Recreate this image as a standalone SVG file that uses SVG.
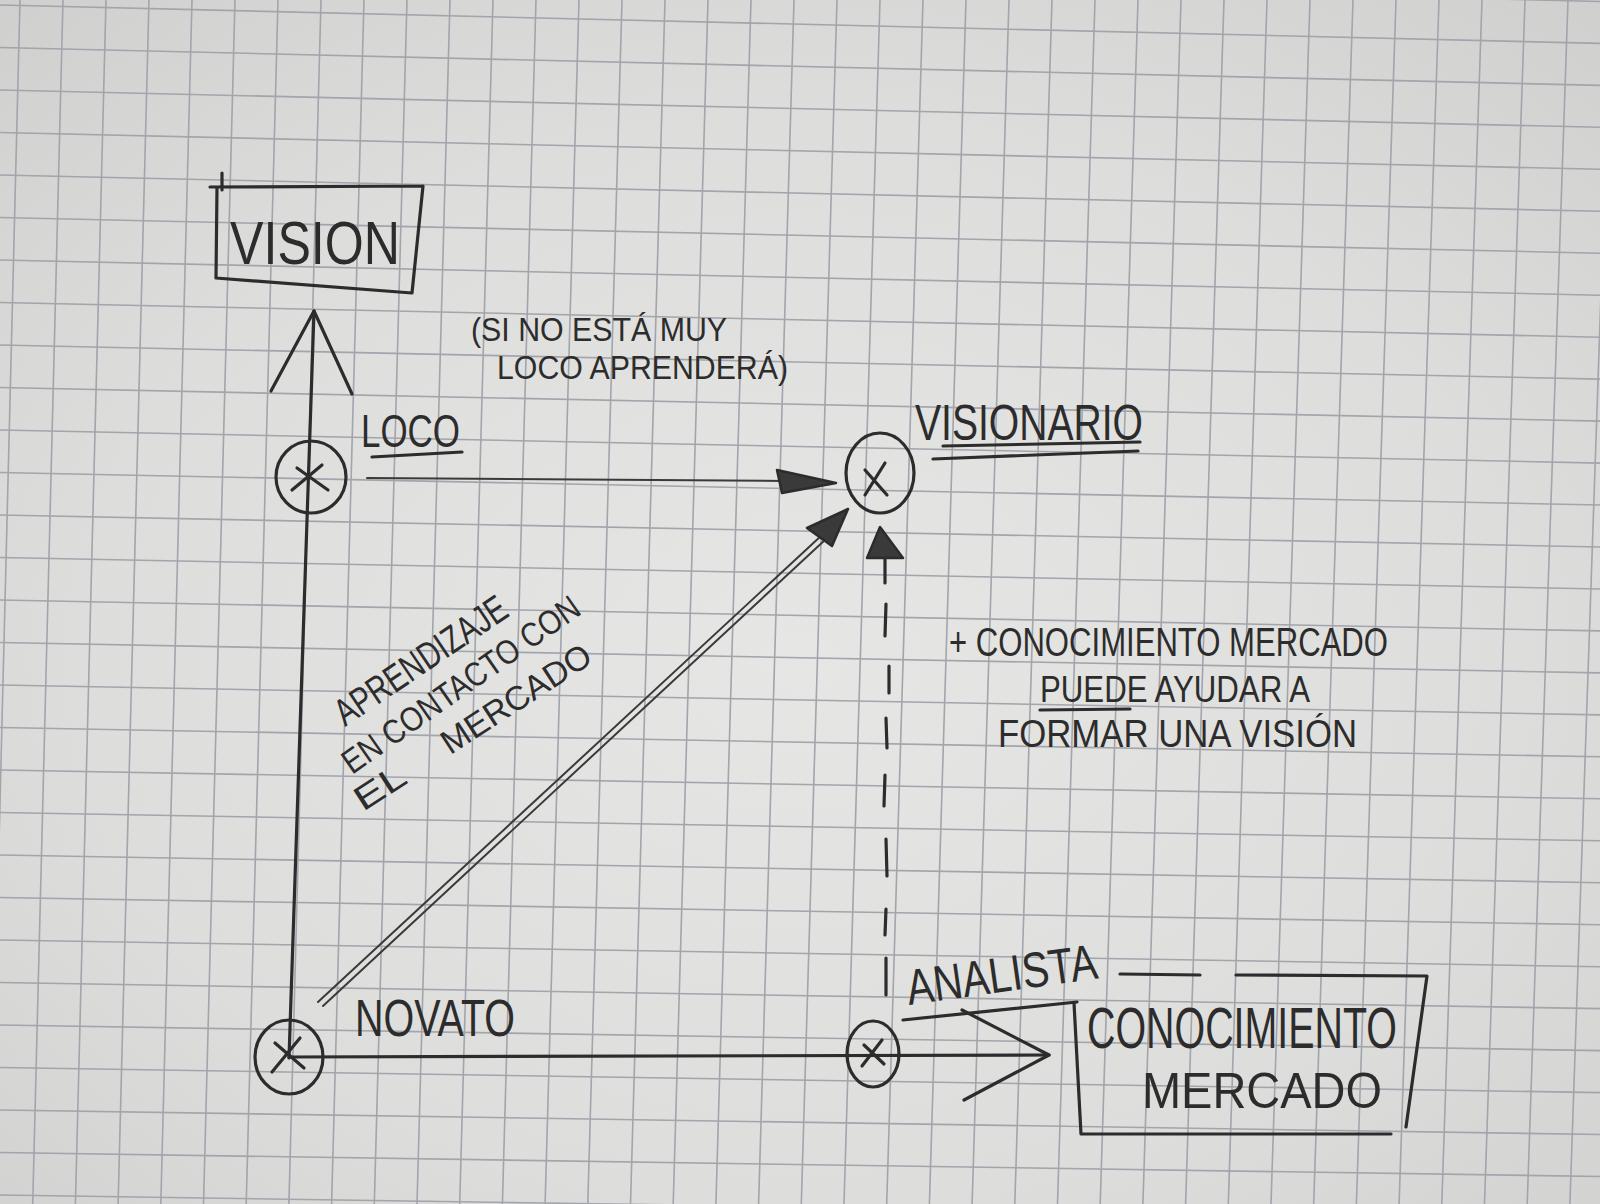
<svg xmlns="http://www.w3.org/2000/svg" width="1600" height="1204" viewBox="0 0 1600 1204">
<defs>
<radialGradient id="paper" cx="50%" cy="55%" r="75%">
<stop offset="0" stop-color="#e6e6e4"/>
<stop offset="0.6" stop-color="#dddddb"/>
<stop offset="1" stop-color="#cfcfce"/>
</radialGradient>
<style>
.grid{fill:none;stroke:#a3a4ac;stroke-width:1.6}
.ink{fill:none;stroke:#2c2c2c;stroke-width:3.2;stroke-linecap:round;stroke-linejoin:round}
.thin{fill:none;stroke:#3a3a3a;stroke-width:2;stroke-linecap:round}
.head{fill:#3a3a3a;stroke:#2c2c2c;stroke-width:2.5;stroke-linejoin:round}
.t{font-family:"Liberation Sans","DejaVu Sans",sans-serif;fill:#2c2c2c}
</style>
</defs>
<rect width="1600" height="1204" fill="url(#paper)"/>
<g id="grid-paper" class="grid">
<path d="M20,0 L-10,1204 M63,0 L32.7,1204 M106,0 L75.4,1204 M149,0 L118.1,1204 M192,0 L160.8,1204 M235,0 L203.5,1204 M278,0 L246.2,1204 M321,0 L288.9,1204 M364,0 L331.6,1204 M407,0 L374.3,1204 M450,0 L417,1204 M493,0 L459.7,1204 M536,0 L502.4,1204 M579,0 L545.1,1204 M622,0 L587.8,1204 M665,0 L630.5,1204 M708,0 L673.2,1204 M751,0 L715.9,1204 M794,0 L758.6,1204 M837,0 L801.3,1204 M880,0 L844,1204 M923,0 L886.7,1204 M966,0 L929.4,1204 M1009,0 L972.1,1204 M1052,0 L1014.8,1204 M1095,0 L1057.5,1204 M1138,0 L1100.2,1204 M1181,0 L1142.9,1204 M1224,0 L1185.6,1204 M1267,0 L1228.3,1204 M1310,0 L1271,1204 M1353,0 L1313.7,1204 M1396,0 L1356.4,1204 M1439,0 L1399.1,1204 M1482,0 L1441.8,1204 M1525,0 L1484.5,1204 M1568,0 L1527.2,1204 M1611,0 L1569.9,1204 M1654,0 L1612.6,1204"/>
<path d="M0,-37.5 L1600,1.5 M0,5 L1600,43.4 M0,47.5 L1600,85.4 M0,90 L1600,127.3 M0,132.5 L1600,169.3 M0,175 L1600,211.3 M0,217.5 L1600,253.2 M0,260 L1600,295.2 M0,302.5 L1600,337.2 M0,345 L1600,379.1 M0,387.5 L1600,421.1 M0,430 L1600,463.1 M0,472.5 L1600,505 M0,515 L1600,547 M0,557.5 L1600,589 M0,600 L1600,630.9 M0,642.5 L1600,672.9 M0,685 L1600,714.9 M0,727.5 L1600,756.8 M0,770 L1600,798.8 M0,812.5 L1600,840.8 M0,855 L1600,882.7 M0,897.5 L1600,924.7 M0,940 L1600,966.7 M0,982.5 L1600,1008.6 M0,1025 L1600,1050.6 M0,1067.5 L1600,1092.6 M0,1110 L1600,1134.5 M0,1152.5 L1600,1176.5 M0,1195 L1600,1218.5"/>
</g>

<g id="connectors">
<path class="ink" d="M314,311 L289,1058"/>
<path class="ink" d="M271,391 L314,311 L352,394"/>
<path class="ink" d="M289,1057 L1049,1055"/>
<path class="ink" d="M962,1010 L1049,1055 L964,1100"/>
<path class="thin" d="M367,478 L785,481"/>
<polygon class="head" points="836,483 777,470 782,493"/>
<path class="thin" d="M318,1002 L822,535"/>
<path class="thin" d="M323,1006 L826,539"/>
<polygon class="head" points="848,509 807,528 832,546"/>
<g class="ink">
<path d="M885,558 L885,583"/>
<path d="M886,604 L885,636"/>
<path d="M889,666 L889,693"/>
<path d="M886,718 L887,748"/>
<path d="M885,775 L884,806"/>
<path d="M886,839 L887,876"/>
<path d="M886,909 L885,935"/>
<path d="M886,958 L886,995"/>
</g>
<polygon class="head" points="880,527 867,558 903,558"/>
</g>

<g id="vision">
<path class="ink" d="M210,187 L423,186 M222,173 L222,190 M217,187 L216,278 L412,293 M423,186 L412,293"/>
<text class="t" x="230" y="264" font-size="62" textLength="170" lengthAdjust="spacingAndGlyphs">VISION</text>
</g>

<g id="loco">
<ellipse class="ink" cx="311" cy="477" rx="35" ry="36"/>
<path class="ink" d="M292,490 L322,465 M297,468 L328,490"/>
<text class="t" x="361" y="447" font-size="46" textLength="99" lengthAdjust="spacingAndGlyphs">LOCO</text>
<path class="ink" d="M372,457 L462,452"/>
</g>

<g id="visionario">
<ellipse class="ink" cx="880" cy="473" rx="34" ry="40"/>
<path class="ink" d="M865,470 L887,495 M885,463 L865,495"/>
<text class="t" x="915" y="440" font-size="50" textLength="228" lengthAdjust="spacingAndGlyphs">VISIONARIO</text>
<path class="ink" d="M943,446 L1140,442 M933,459 L1138,451"/>
</g>

<g id="novato">
<ellipse class="ink" cx="289" cy="1057" rx="34" ry="37"/>
<path class="ink" d="M272,1072 L300,1038 M275,1043 L304,1068"/>
<text class="t" x="355" y="1036" font-size="52" textLength="160" lengthAdjust="spacingAndGlyphs">NOVATO</text>
</g>

<g id="analista">
<ellipse class="ink" cx="873" cy="1054" rx="26" ry="33"/>
<path class="ink" d="M862,1066 L882,1040 M864,1045 L884,1064"/>
<text class="t" x="0" y="0" font-size="50" textLength="192" lengthAdjust="spacingAndGlyphs" transform="translate(909,1005) rotate(-8)">ANALISTA</text>
<path class="ink" d="M903,1020 L1077,1002"/>
</g>

<g id="conocimiento-mercado">
<path class="ink" d="M1120,974 L1200,975 M1236,975 L1427,976 L1406,1127 M1074,1003 L1081,1134 L1391,1134"/>
<text class="t" x="1087" y="1048" font-size="58" textLength="310" lengthAdjust="spacingAndGlyphs">CONOCIMIENTO</text>
<text class="t" x="1142" y="1108" font-size="50" textLength="240" lengthAdjust="spacingAndGlyphs">MERCADO</text>
</g>

<g id="notes">
<text class="t" x="471" y="341" font-size="33" textLength="256" lengthAdjust="spacingAndGlyphs">(SI NO ESTÁ MUY</text>
<text class="t" x="497" y="379" font-size="33" textLength="291" lengthAdjust="spacingAndGlyphs">LOCO APRENDERÁ)</text>

<text class="t" x="0" y="0" font-size="38" textLength="200" lengthAdjust="spacingAndGlyphs" transform="translate(345,727) rotate(-34)">APRENDIZAJE</text>
<text class="t" x="0" y="0" font-size="34" textLength="282" lengthAdjust="spacingAndGlyphs" transform="translate(352,775) rotate(-35)">EN CONTACTO CON</text>
<g transform="translate(363,812) rotate(-33)">
<text class="t" x="0" y="0" font-size="34" textLength="55" lengthAdjust="spacingAndGlyphs">EL</text>
<text class="t" x="104" y="0" font-size="34" textLength="172" lengthAdjust="spacingAndGlyphs">MERCADO</text>
</g>

<text class="t" x="949" y="656" font-size="40" textLength="439" lengthAdjust="spacingAndGlyphs">+ CONOCIMIENTO MERCADO</text>
<text class="t" x="1040" y="702" font-size="36" textLength="270" lengthAdjust="spacingAndGlyphs">PUEDE AYUDAR A</text>
<path class="ink" d="M1040,710 L1130,709"/>
<text class="t" x="998" y="747" font-size="38" textLength="359" lengthAdjust="spacingAndGlyphs">FORMAR UNA VISIÓN</text>
</g>
</svg>
